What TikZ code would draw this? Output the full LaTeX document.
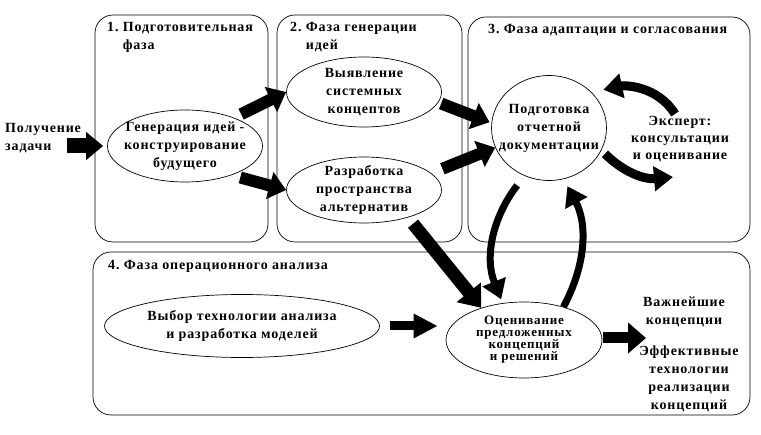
\documentclass[tikz,border=0pt]{standalone}
\usepackage{fontspec}
\setmainfont{Liberation Serif}[LetterSpace=6]
\usetikzlibrary{shapes.geometric,arrows.meta}

\tikzset{
  phase/.style={draw,rounded corners=18pt,line width=0.7pt},
  idea/.style={draw,ellipse,inner sep=0pt,line width=0.7pt},
  lbl/.style={align=center,font=\fontsize{14}{18}\selectfont\bfseries,inner sep=0pt},
  ttl/.style={anchor=west,align=left,font=\fontsize{14}{18}\selectfont\bfseries,inner sep=0pt},
  fat/.style={line width=12pt,-{Triangle[length=17pt,width=27pt]}},
  bent/.style={line width=7pt,-{Triangle[length=19pt,width=24pt]}},
}

\begin{document}
\begin{tikzpicture}[x=1pt,y=-1pt]
  \useasboundingbox (0,0) rectangle (761,435);
  % phases
  \draw[phase] (95,15) rectangle (268,242);
  \draw[phase] (277,15) rectangle (462,242);
  \draw[phase] (468,17) rectangle (750,242);
  \draw[phase] (93,252) rectangle (750,415);
  \node[ttl] (t1) at (107,37) {1.~Подготовительная\\\phantom{1.~}фаза};
  \node[ttl] (t2) at (290,37) {2.~Фаза генерации\\\phantom{2.~}идей};
  \node[ttl] (t3) at (488,30) {3.~Фаза адаптации и согласования};
  \node[ttl] (t4) at (108,266) {4.~Фаза операционного анализа};

  % ideas
  \node[lbl,align=left,anchor=west] (task) at (5,138) {Получение\\задачи};
  \node[idea,minimum width=155pt,minimum height=72pt,
    label={[lbl]center:{Генерация идей -\\конструирование\\будущего}}] (e1) at (185,146) {};
  \node[idea,minimum width=155pt,minimum height=70pt,
    label={[lbl]center:{Выявление\\системных\\концептов}}] (e2) at (364,92) {};
  \node[idea,minimum width=155pt,minimum height=66pt,
    label={[lbl]center:{Разработка\\пространства\\альтернатив}}] (e3) at (364,190) {};
  \node[idea,minimum width=115pt,minimum height=105pt,
    label={[lbl]center:{Подготовка\\отчетной\\документации}}] (doc) at (549,128) {};
  \node[lbl,font=\fontsize{14}{17}\selectfont\bfseries] (expert) at (680,139) {Эксперт:\\консультации\\и оценивание};
  \node[idea,minimum width=275pt,minimum height=63pt,
    label={[lbl]center:{Выбор технологии анализа\\и разработка моделей}}] (e4) at (242,326) {};
  \node[idea,minimum width=156pt,minimum height=76pt,
    label={[lbl,font=\fontsize{13}{12}\selectfont\bfseries]center:{Оценивание\\предложенных\\концепций\\и решений}}] (e5) at (524,340) {};
  \node[lbl] (res1) at (684,312) {Важнейшие\\концепции};
  \node[lbl] (res2) at (689,379) {Эффективные\\технологии\\реализации\\концепций};

  % flows
  \coordinate (start) at (67,146);
  \coordinate (out) at (646,338);
  \draw[fat,line width=15pt,shorten >=4pt] (start) -- (e1.west);
  \draw[fat,shorten <=8pt] (e1.30) -- (e2.west);
  \draw[fat,shorten <=9pt] (e1.-32) -- (e3.west);
  \draw[fat,shorten <=3pt,shorten >=2pt] (e2.-8) -- (doc.175);
  \draw[fat,shorten <=12pt] (e3.14) -- (doc.200);
  \draw[fat,line width=13pt,-{Triangle[length=20pt,width=30pt]},shorten <=8pt] (e3.-32) -- (e5.143);
  \draw[fat,line width=9pt,-{Triangle[length=24pt,width=23pt]},shorten <=10pt,shorten >=8pt] (e4.east) -- (e4.east -| e5.west);
  \draw[fat,line width=11pt,-{Triangle[length=18pt,width=30pt]},shorten <=1pt] (e5.east |- out) -- (out);
  \draw[bent,shorten <=12pt,shorten >=4pt] (doc.243) to[out=232,in=112] (e5.120);
  \draw[bent,shorten >=8pt] (e5.40) to[out=62,in=-62] (doc.-74);
  \draw[bent,line width=9pt,shorten >=12pt] ([shift={(-5pt,2pt)}]expert.north) to[out=122,in=12] (doc.40);
  \draw[bent,line width=9pt,shorten <=5pt] (doc.-23) to[out=-45,in=185] ([shift={(-7pt,-15pt)}]expert.south);
\end{tikzpicture}
\end{document}
